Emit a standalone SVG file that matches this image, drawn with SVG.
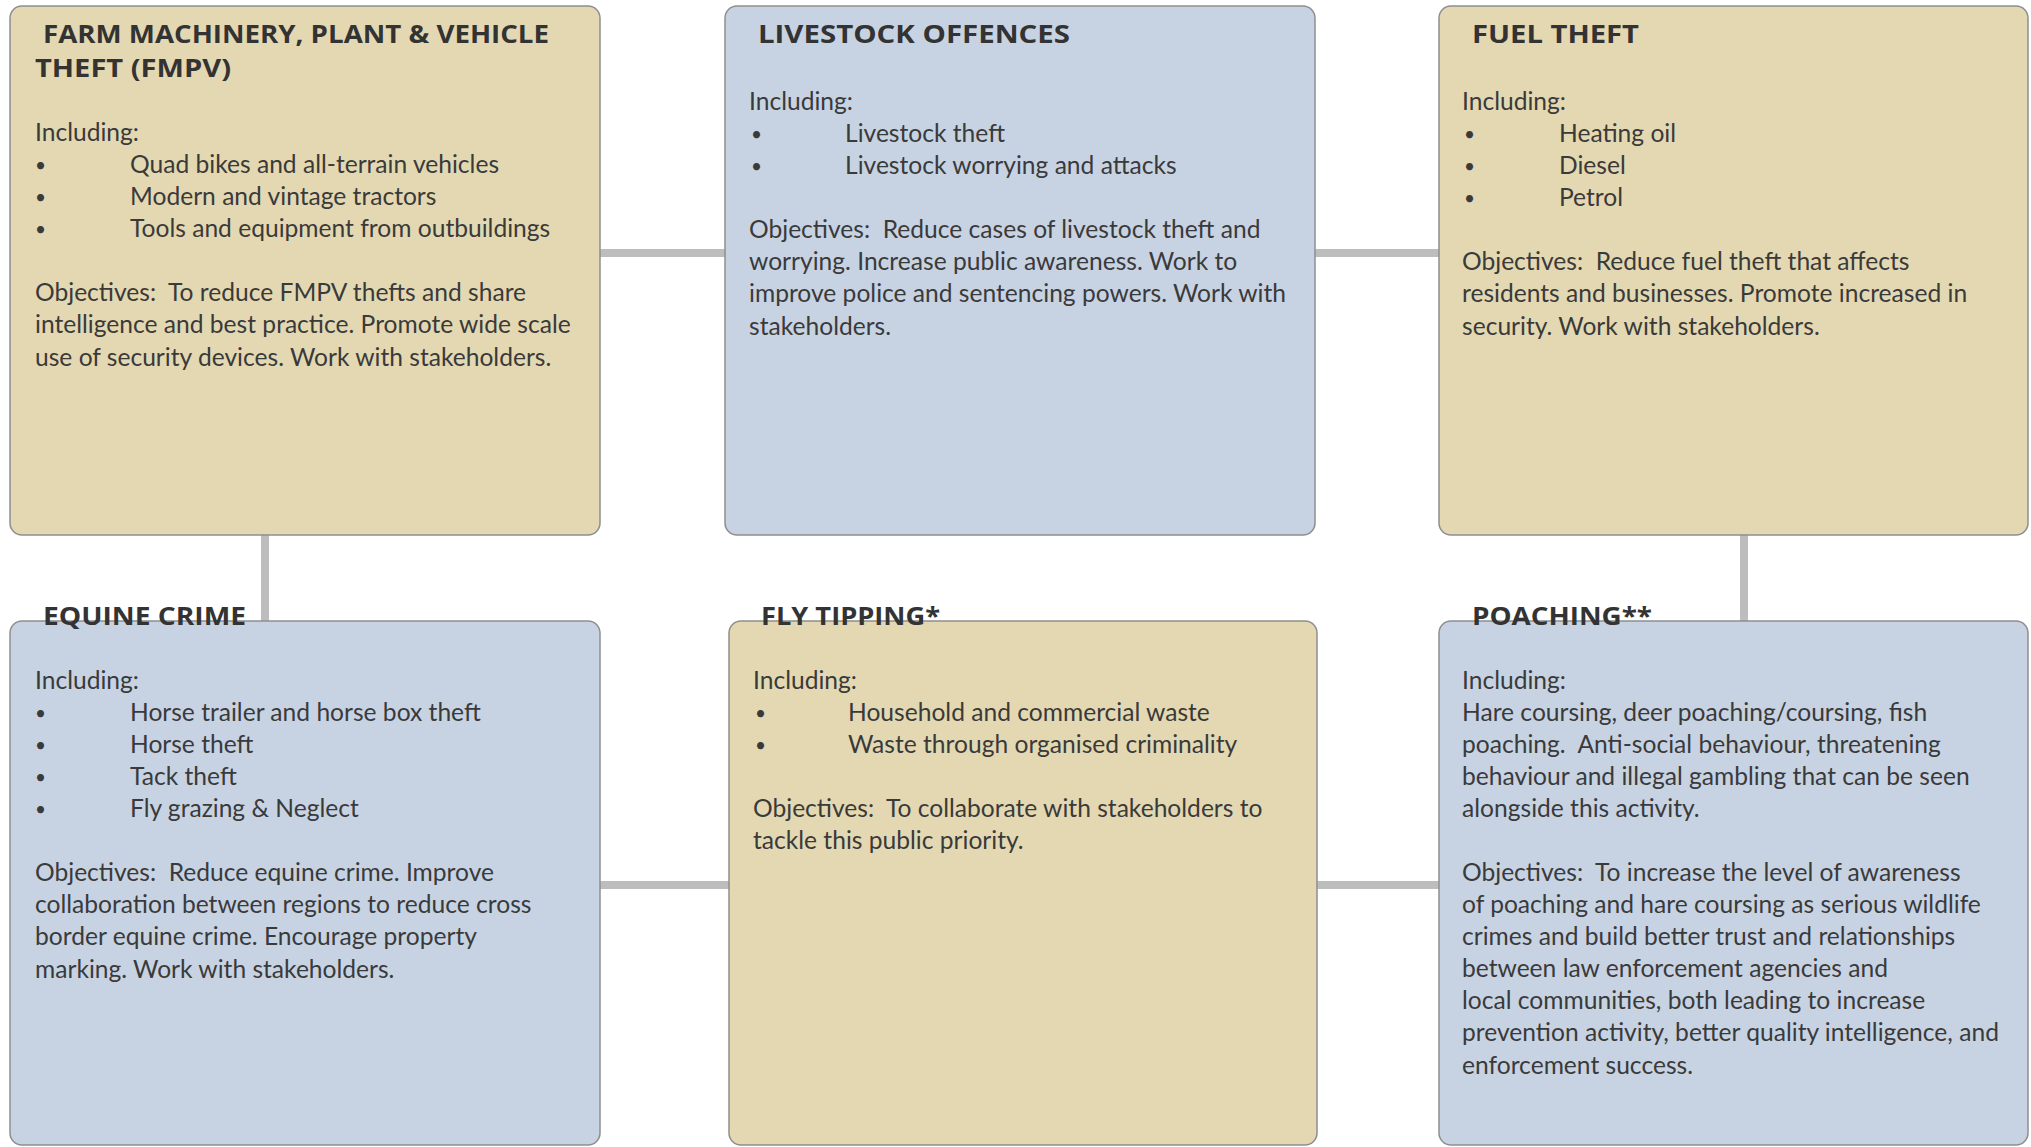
<svg xmlns="http://www.w3.org/2000/svg" width="2031" height="1147" viewBox="0 0 2031 1147">
  <style>
    .tan { fill: #e3d8b2; stroke: #8e8e8e; stroke-width: 1.5; }
    .blue { fill: #c7d3e3; stroke: #8e8e8e; stroke-width: 1.5; }
    .link { stroke: #bdbdbd; stroke-width: 8; fill: none; }
    .title { font-family: "Open Sans", Lato, "Liberation Sans", sans-serif; font-weight: 700; font-size: 25px; fill: #333333; }
    .body { font-family: Lato, "Liberation Sans", sans-serif; font-size: 24.6px; fill: #3a3a3a; }
    .dot { font-family: Lato, "Liberation Sans", sans-serif; font-size: 19px; fill: #3a3a3a; }
  </style>

  <!-- connectors between the six priority boxes -->
  <g id="connectors">
    <line class="link" x1="600" y1="253" x2="725" y2="253"/>
    <line class="link" x1="1315" y1="253" x2="1439" y2="253"/>
    <line class="link" x1="265" y1="535" x2="265" y2="621"/>
    <line class="link" x1="1744" y1="535" x2="1744" y2="621"/>
    <line class="link" x1="600" y1="885" x2="729" y2="885"/>
    <line class="link" x1="1317" y1="885" x2="1439" y2="885"/>
  </g>

  <g id="fmpv">
    <rect class="tan" x="10" y="6" width="590" height="529" rx="12"/>
    <text class="title" x="43" y="43" textLength="506" lengthAdjust="spacingAndGlyphs">FARM MACHINERY, PLANT &amp; VEHICLE</text>
    <text class="title" x="35" y="77" textLength="196" lengthAdjust="spacingAndGlyphs">THEFT (FMPV)</text>
    <text class="body" x="35" y="141">Including:</text>
    <text class="dot" x="35" y="172">•</text><text class="body" x="130" y="173">Quad bikes and all-terrain vehicles</text>
    <text class="dot" x="35" y="204">•</text><text class="body" x="130" y="205">Modern and vintage tractors</text>
    <text class="dot" x="35" y="236">•</text><text class="body" x="130" y="237">Tools and equipment from outbuildings</text>
    <text class="body" x="35" y="301" xml:space="preserve">Objectives:  To reduce FMPV thefts and share</text>
    <text class="body" x="35" y="333">intelligence and best practice. Promote wide scale</text>
    <text class="body" x="35" y="366">use of security devices. Work with stakeholders.</text>
  </g>

  <g id="livestock">
    <rect class="blue" x="725" y="6" width="590" height="529" rx="12"/>
    <text class="title" x="758" y="43" textLength="312" lengthAdjust="spacingAndGlyphs">LIVESTOCK OFFENCES</text>
    <text class="body" x="749" y="110">Including:</text>
    <text class="dot" x="751" y="141">•</text><text class="body" x="845" y="142">Livestock theft</text>
    <text class="dot" x="751" y="173">•</text><text class="body" x="845" y="174">Livestock worrying and attacks</text>
    <text class="body" x="749" y="238" xml:space="preserve">Objectives:  Reduce cases of livestock theft and</text>
    <text class="body" x="749" y="270">worrying. Increase public awareness. Work to</text>
    <text class="body" x="749" y="302">improve police and sentencing powers. Work with</text>
    <text class="body" x="749" y="335">stakeholders.</text>
  </g>

  <g id="fuel">
    <rect class="tan" x="1439" y="6" width="589" height="529" rx="12"/>
    <text class="title" x="1472" y="43" textLength="167" lengthAdjust="spacingAndGlyphs">FUEL THEFT</text>
    <text class="body" x="1462" y="110">Including:</text>
    <text class="dot" x="1464" y="141">•</text><text class="body" x="1559" y="142">Heating oil</text>
    <text class="dot" x="1464" y="173">•</text><text class="body" x="1559" y="174">Diesel</text>
    <text class="dot" x="1464" y="205">•</text><text class="body" x="1559" y="206">Petrol</text>
    <text class="body" x="1462" y="270" xml:space="preserve">Objectives:  Reduce fuel theft that affects</text>
    <text class="body" x="1462" y="302">residents and businesses. Promote increased in</text>
    <text class="body" x="1462" y="335">security. Work with stakeholders.</text>
  </g>

  <g id="equine">
    <rect class="blue" x="10" y="621" width="590" height="524" rx="12"/>
    <text class="title" x="43" y="625" textLength="203" lengthAdjust="spacingAndGlyphs">EQUINE CRIME</text>
    <text class="body" x="35" y="689">Including:</text>
    <text class="dot" x="35" y="720">•</text><text class="body" x="130" y="721">Horse trailer and horse box theft</text>
    <text class="dot" x="35" y="752">•</text><text class="body" x="130" y="753">Horse theft</text>
    <text class="dot" x="35" y="784">•</text><text class="body" x="130" y="785">Tack theft</text>
    <text class="dot" x="35" y="816">•</text><text class="body" x="130" y="817">Fly grazing &amp; Neglect</text>
    <text class="body" x="35" y="881" xml:space="preserve">Objectives:  Reduce equine crime. Improve</text>
    <text class="body" x="35" y="913">collaboration between regions to reduce cross</text>
    <text class="body" x="35" y="945">border equine crime. Encourage property</text>
    <text class="body" x="35" y="978">marking. Work with stakeholders.</text>
  </g>

  <g id="flytipping">
    <rect class="tan" x="729" y="621" width="588" height="524" rx="12"/>
    <text class="title" x="761" y="625" textLength="179" lengthAdjust="spacingAndGlyphs">FLY TIPPING*</text>
    <text class="body" x="753" y="689">Including:</text>
    <text class="dot" x="755" y="720">•</text><text class="body" x="848" y="721">Household and commercial waste</text>
    <text class="dot" x="755" y="752">•</text><text class="body" x="848" y="753">Waste through organised criminality</text>
    <text class="body" x="753" y="817" xml:space="preserve">Objectives:  To collaborate with stakeholders to</text>
    <text class="body" x="753" y="849">tackle this public priority.</text>
  </g>

  <g id="poaching">
    <rect class="blue" x="1439" y="621" width="589" height="524" rx="12"/>
    <text class="title" x="1472" y="625" textLength="180" lengthAdjust="spacingAndGlyphs">POACHING**</text>
    <text class="body" x="1462" y="689">Including:</text>
    <text class="body" x="1462" y="721">Hare coursing, deer poaching/coursing, fish</text>
    <text class="body" x="1462" y="753" xml:space="preserve">poaching.  Anti-social behaviour, threatening</text>
    <text class="body" x="1462" y="785">behaviour and illegal gambling that can be seen</text>
    <text class="body" x="1462" y="817">alongside this activity.</text>
    <text class="body" x="1462" y="881" xml:space="preserve">Objectives:  To increase the level of awareness</text>
    <text class="body" x="1462" y="913">of poaching and hare coursing as serious wildlife</text>
    <text class="body" x="1462" y="945">crimes and build better trust and relationships</text>
    <text class="body" x="1462" y="977">between law enforcement agencies and</text>
    <text class="body" x="1462" y="1009">local communities, both leading to increase</text>
    <text class="body" x="1462" y="1041">prevention activity, better quality intelligence, and</text>
    <text class="body" x="1462" y="1074">enforcement success.</text>
  </g>
</svg>
